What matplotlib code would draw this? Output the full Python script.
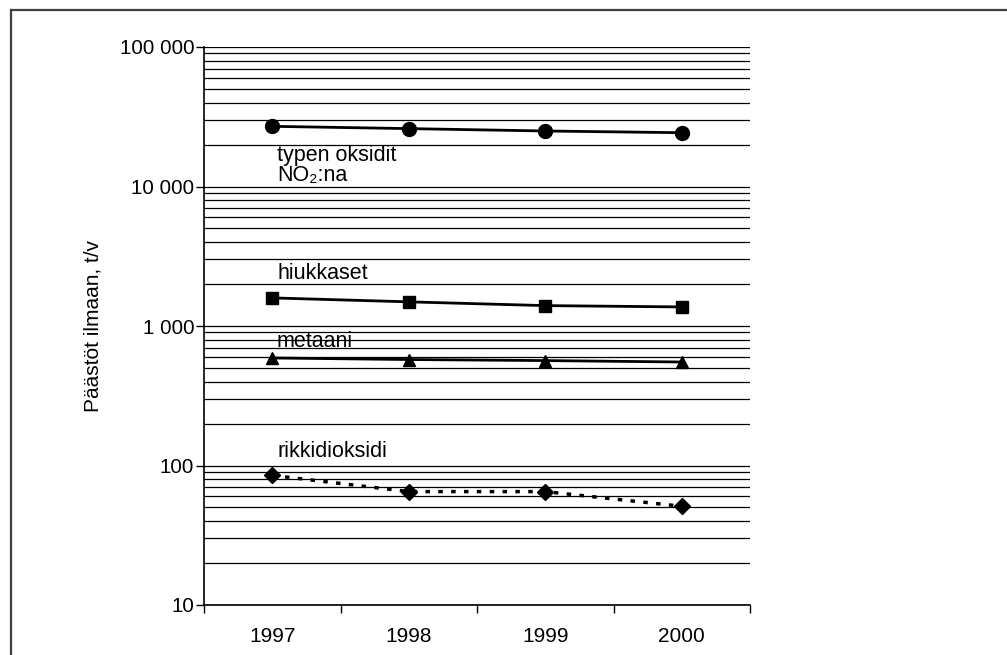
import matplotlib
matplotlib.use("Agg")
import matplotlib.pyplot as plt
from matplotlib.lines import Line2D
from matplotlib.ticker import FixedLocator, LogLocator, NullFormatter

plt.rcParams['font.family'] = ['Liberation Sans', 'DejaVu Sans']

# Data (t/v)
years = ["1997", "1998", "1999", "2000"]
typen_oksidit = [27000, 26000, 25000, 24300]
hiukkaset = [1590, 1490, 1400, 1370]
metaani = [590, 575, 565, 552]
rikkidioksidi = [85, 65, 65, 51]

y_ticks = [10, 100, 1000, 10000, 100000]
y_tick_labels = ["10", "100", "1 000", "10 000", "100 000"]

W, H = 1007, 655
fig = plt.figure(figsize=(W / 100, H / 100), dpi=100)

# frame round the chart (only left and top edges are visible)
fig.add_artist(Line2D([11 / W, 11 / W], [0, 1 - 10 / H], transform=fig.transFigure,
                      color="#404040", lw=1.6))
fig.add_artist(Line2D([11 / W, 1], [1 - 10 / H, 1 - 10 / H], transform=fig.transFigure,
                      color="#404040", lw=1.6))

ax = fig.add_axes([204 / W, 1 - 605 / H, (750 - 204) / W, (605 - 47) / H])
x = list(range(len(years)))

ax.set_yscale("log")
ax.set_ylim(10, 100000)
ax.set_xlim(-0.5, len(years) - 0.5)

# horizontal grid at every decade and every minor step
ax.yaxis.set_major_locator(FixedLocator(y_ticks))
ax.yaxis.set_minor_locator(LogLocator(base=10, subs=range(2, 10)))
ax.yaxis.set_minor_formatter(NullFormatter())
ax.set_yticklabels(y_tick_labels)
ax.grid(True, which="both", axis="y", color="black", lw=0.9)
ax.tick_params(axis="y", which="major", length=6, width=1, pad=1, labelsize=14.8)
ax.tick_params(axis="y", which="minor", length=0)

# x ticks at category boundaries, labels at category centres
ax.set_xticks([i - 0.5 for i in range(len(years) + 1)])
ax.set_xticklabels([])
ax.set_xticks(x, minor=True)
ax.set_xticklabels(years, minor=True)
ax.tick_params(axis="x", which="major", length=6, width=1)
ax.tick_params(axis="x", which="minor", length=0, pad=16, labelsize=15)

for s in ["top", "right"]:
    ax.spines[s].set_visible(False)
for s in ["left", "bottom"]:
    ax.spines[s].set_linewidth(1.2)

ax.plot(x, typen_oksidit, color="black", lw=2, marker="o", ms=10, zorder=5)
ax.plot(x, hiukkaset, color="black", lw=2, marker="s", ms=8, zorder=5)
ax.plot(x, metaani, color="black", lw=2, marker="^", ms=8, zorder=5)
ax.plot(x, rikkidioksidi, color="black", lw=2.5, ls=(0, (1.3, 2.4)),
        marker="D", ms=8, zorder=5)

# series labels
ax.text(0.035, 16800, "typen oksidit", fontsize=15.5, va="center", ha="left")
ax.text(0.035, 11900, "NO\u2082:na", fontsize=15.5, va="center", ha="left")
ax.text(0.035, 2360, "hiukkaset", fontsize=15.5, va="center", ha="left")
ax.text(0.035, 780, "metaani", fontsize=15.5, va="center", ha="left")
ax.text(0.035, 125, "rikkidioksidi", fontsize=15.5, va="center", ha="left")

ax.set_ylabel("Päästöt ilmaan, t/v", fontsize=15, labelpad=12)

fig.savefig("out.png", dpi=100)
